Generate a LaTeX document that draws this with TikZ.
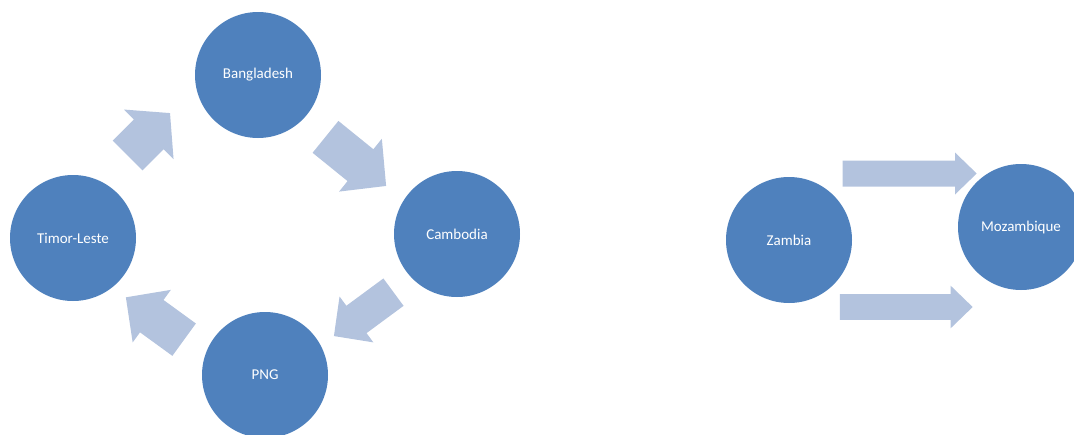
\documentclass[tikz,border=0pt]{standalone}
\usepackage{fontspec}
\setmainfont{Carlito}
\definecolor{circblue}{HTML}{4F81BD}
\definecolor{arrowblue}{HTML}{B3C3DE}
% block arrow: centre x, centre y, angle, length, shaft width, head width, head length
\newcommand\blockarrow[7]{%
  \fill[arrowblue, shift={(#1,#2)}, rotate=#3]
    (-#4/2,-#5/2) -- (#4/2-#7,-#5/2) -- (#4/2-#7,-#6/2) -- (#4/2,0)
    -- (#4/2-#7,#6/2) -- (#4/2-#7,#5/2) -- (-#4/2,#5/2) -- cycle;}
\begin{document}
\begin{tikzpicture}[x=1pt,y=-1pt,
  country/.style={circle, fill=circblue, draw=none, minimum size=126pt,
    inner sep=0pt, text=white, font=\fontsize{15}{18}\selectfont}]
\useasboundingbox (0,0) rectangle (1074,434);
\clip (0,0) rectangle (1074,434);

% cycle of four countries
\node[country] (bangladesh) at (258,75)  {Bangladesh};
\node[country] (cambodia)   at (457,234) {Cambodia};
\node[country] (png)        at (265,375) {PNG};
\node[country] (timor)      at (73,238)  {Timor-Leste};

\blockarrow{148.8}{134.3}{45}{60}{42}{70}{30}
\blockarrow{355.8}{161.4}{-39}{78}{41}{68}{33}
\blockarrow{363.7}{314.1}{-143.6}{74}{34}{57}{28}
\blockarrow{155}{318.5}{144}{72}{40}{65}{32}

% pair on the right
\node[country] (zambia)     at (789,240)  {Zambia};
\node[country] (mozambique) at (1021,227) {Mozambique};

\blockarrow{909.7}{173.5}{0}{134}{26}{42}{21.7}
\blockarrow{906.3}{307}{0}{132.7}{25.7}{42.6}{22}
\end{tikzpicture}
\end{document}
